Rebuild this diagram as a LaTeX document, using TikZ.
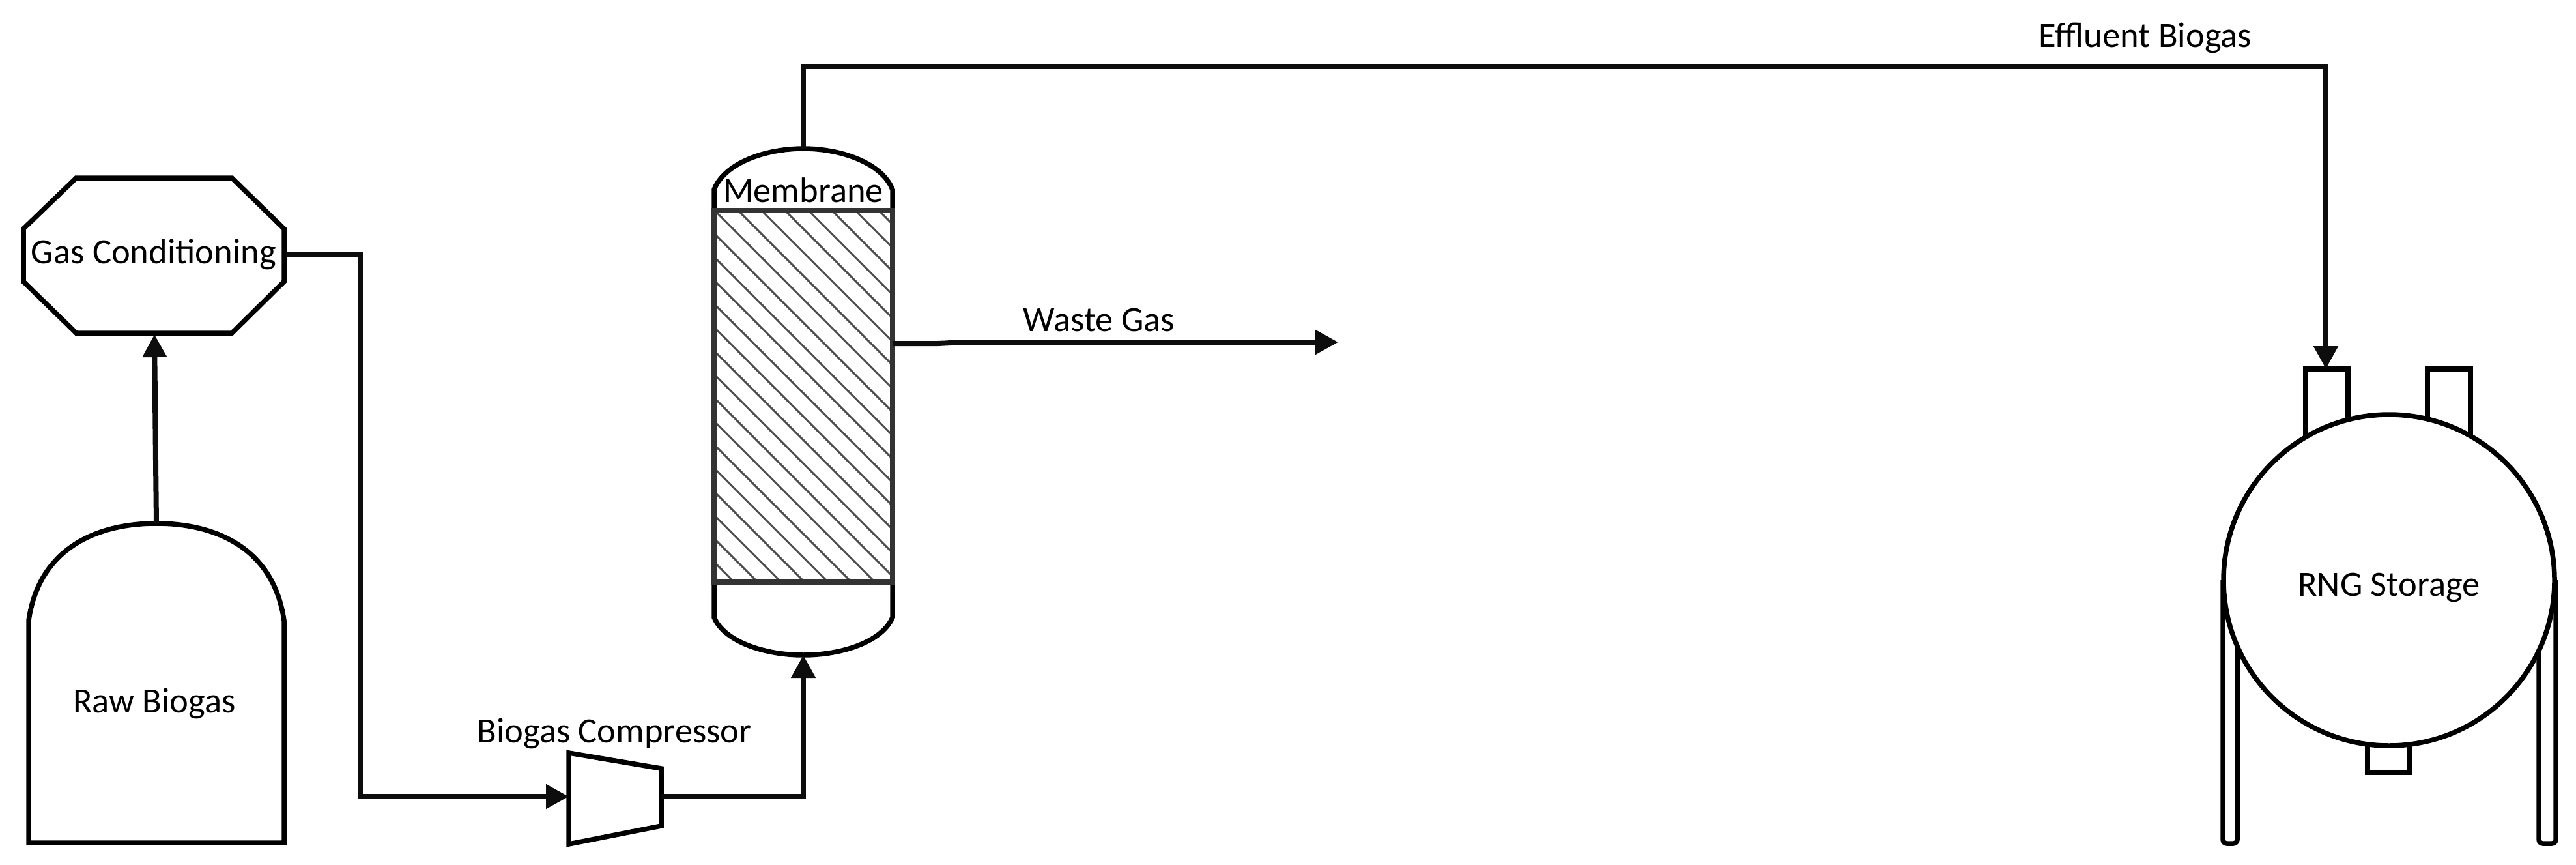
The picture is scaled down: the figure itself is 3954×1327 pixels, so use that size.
\documentclass[tikz,border=0pt]{standalone}
\usepackage{fontspec}
\setmainfont{Carlito}
\usetikzlibrary{arrows.meta}
\tikzset{
  x=1pt,y=-1pt,
  eq/.style={draw=black,line width=7.5pt,fill=white,line join=miter},
  flow/.style={draw=black!95,line width=8pt,line join=miter,-{Triangle[length=35pt,width=36pt]}},
  lab/.style={font=\fontsize{54.5}{54.5}\selectfont,inner sep=0pt,text=black},
  hatchline/.style={draw=black!70,line width=3pt},
  shell/.style={draw=black!80,line width=8pt},
}
\begin{document}
\begin{tikzpicture}
\useasboundingbox (0,0) rectangle (3954,1327);
% anchors
\coordinate (rawtop) at (240,803);
\coordinate (gasbot) at (237,513);
\coordinate (gasright) at (439,390);
\coordinate (compin) at (873,1222);
\coordinate (compout) at (1015,1222);
\coordinate (membot) at (1233,1005);
\coordinate (memtop) at (1233,228);
\coordinate (memright) at (1370,527);
\coordinate (wasteend) at (2054,525);
\coordinate (noz) at (3570,566);
% Raw biogas
\draw[eq] (44,1293) -- (44,952) .. controls (60,840) and (150,803) .. (240,803) .. controls (330,803) and (420,840) .. (436,952) -- (436,1293) -- cycle;
\node[lab] (raw) at (237,1079) {Raw Biogas};
% Gas conditioning
\draw[eq] (117,273) -- (356,273) -- (436,351) -- (436,432) -- (356,511) -- (117,511) -- (36,432) -- (36,351) -- cycle;
\node[lab] (gas) at (236,390) {Gas Conditioning};
% Compressor
\draw[eq] (873,1155) -- (1015,1179) -- (1015,1267) -- (873,1295) -- cycle;
\node[lab] (bc) at (943,1125) {Biogas Compressor};
% Membrane
\draw[eq] (1096,323) -- (1096,291) .. controls (1112,250) and (1175,228) .. (1233,228) .. controls (1291,228) and (1354,250) .. (1370,291) -- (1370,323);
\draw[eq] (1096,893) -- (1096,947) .. controls (1112,985) and (1175,1005) .. (1233,1005) .. controls (1291,1005) and (1354,985) .. (1370,947) -- (1370,893);
\begin{scope}
\clip (1096,323) rectangle (1370,893);
\foreach \k in {-17,...,7} {
  \draw[hatchline] ({810+36*\k+323},323) -- ({810+36*\k+893},893);
}
\end{scope}
\draw[shell] (1096,323) rectangle (1370,893);
\node[lab] (mem) at (1233,292) {Membrane};
% Storage
\draw[eq,rounded corners=6pt] (3412,890) -- (3412,1294) -- (3434,1294) -- (3434,900);
\draw[eq,rounded corners=6pt] (3897,900) -- (3897,1294) -- (3923,1294) -- (3923,890);
\draw[eq] (3539,700) -- (3539,566) -- (3604,566) -- (3604,700);
\draw[eq] (3726,700) -- (3726,566) -- (3792,566) -- (3792,700);
\draw[eq] (3634,1100) -- (3634,1185) -- (3699,1185) -- (3699,1100);
\draw[eq] (3667,890) circle[radius=254];
\node[lab] (rng) at (3667,901) {RNG Storage};
% Connectors
\draw[flow] (rawtop) -- (gasbot);
\draw[flow] (gasright) -| (553,1222) -- (compin);
\draw[flow] (compout) -| (membot);
\draw[flow] (memtop) -- (1233,102) -| (noz);
\draw[flow] (memright) -- (1440,527) -- (1480,525) -- (wasteend);
\node[lab] (waste) at (1687,491) {Waste Gas};
\node[lab] (eff) at (3293,58) {Effluent Biogas};
\end{tikzpicture}
\end{document}
